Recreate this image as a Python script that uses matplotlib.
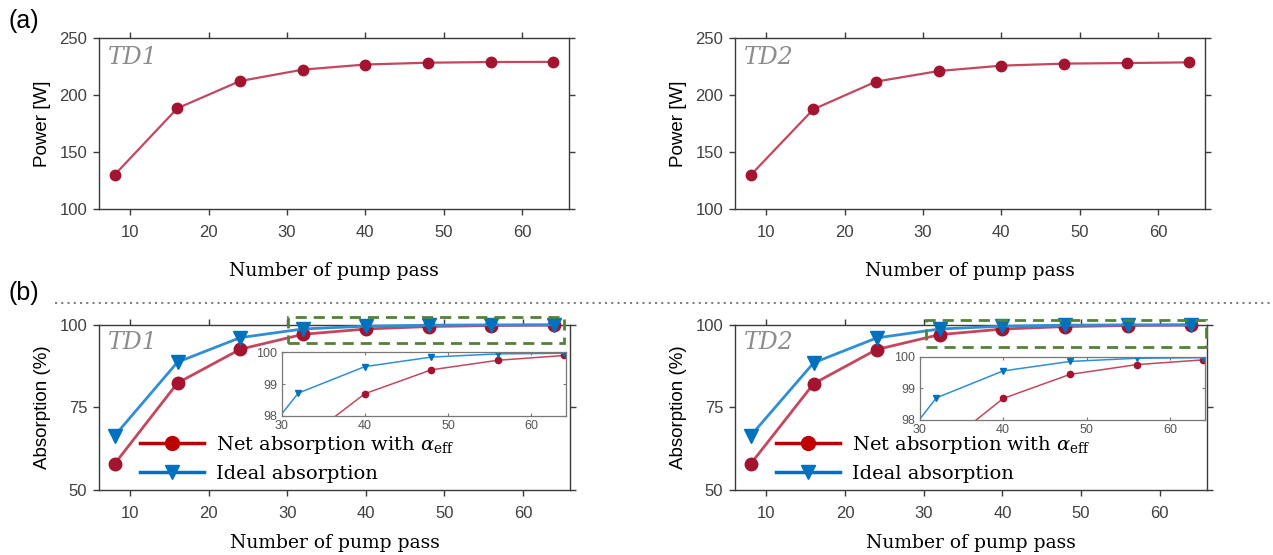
"""
Pump pass study: output power and absorption for TD1 / TD2
"""

import matplotlib
matplotlib.use("Agg")
import matplotlib.pyplot as plt
from matplotlib.lines import Line2D
from matplotlib.patches import Rectangle

# number of pump passes
passes = [8, 16, 24, 32, 40, 48, 56, 64]

# output power [W]
power_td1 = [130.3, 188.6, 212.5, 222.5, 227.0, 228.6, 229.2, 229.3]
power_td2 = [130.0, 187.7, 212.0, 221.3, 226.0, 227.8, 228.3, 228.9]

# absorption [%]
net_td1 = [58.0, 82.4, 92.6, 97.1, 98.7, 99.45, 99.75, 99.9]
ideal_td1 = [66.5, 88.7, 96.1, 98.72, 99.55, 99.85, 99.95, 99.97]
net_td2 = [58.0, 82.2, 92.5, 97.0, 98.68, 99.44, 99.75, 99.9]
ideal_td2 = [66.5, 88.5, 96.0, 98.7, 99.55, 99.85, 99.95, 99.97]

panel_names = ["TD1", "TD2"]

CRIMSON = "#A2142F"
CRIMSON_LINE = "#C4475E"
BLUE = "#0072BD"
BLUE_LINE = "#2E8FD6"
GREEN = "#548235"
TICK_GREY = "#404040"
SPINE = "#3a3a3a"

W, H = 1273, 555
SERIF = ["DejaVu Serif"]
SANS = ["Liberation Sans", "DejaVu Sans"]

plt.rcParams["mathtext.fontset"] = "dejavuserif"


def px_rect(left, top, right, bottom):
    """pixel box -> figure fraction rect"""
    return [left / W, 1 - bottom / H, (right - left) / W, (bottom - top) / H]


def style_axes(ax, size=12, color=TICK_GREY, length=4.5, xpad=7, ypad=4):
    for sp in ax.spines.values():
        sp.set_color(SPINE)
        sp.set_linewidth(1.0)
    ax.tick_params(direction="out", length=length, width=1.0, color=SPINE,
                   labelsize=size, labelcolor=color, top=True, right=True)
    ax.tick_params(axis="x", pad=xpad)
    ax.tick_params(axis="y", pad=ypad)
    for lab in ax.get_xticklabels() + ax.get_yticklabels():
        lab.set_family(SANS)


def tag(ax, name):
    ax.text(0.018, 0.89, name, transform=ax.transAxes, fontsize=17,
            family=SERIF, style="italic", color="#8c8c8c", va="center")


def power_panel(fig, rect, values, name):
    ax = fig.add_axes(rect)
    ax.plot(passes, values, color=CRIMSON_LINE, lw=1.6, marker="o", ms=7.5,
            mfc=CRIMSON, mec=CRIMSON, clip_on=False)
    ax.set_xlim(6, 66)
    ax.set_ylim(100, 250)
    ax.set_xticks([10, 20, 30, 40, 50, 60])
    ax.set_yticks([100, 150, 200, 250])
    ax.set_ylabel("Power [W]", fontsize=13.5, family=SANS, labelpad=6)
    ax.set_xlabel("Number of pump pass", fontsize=13.5, family=SERIF,
                  labelpad=16)
    style_axes(ax)
    tag(ax, name)
    return ax


def absorption_panel(fig, rect, inset_rect, net, ideal, name, box):
    ax = fig.add_axes(rect)
    ax.plot(passes, net, color=CRIMSON_LINE, lw=2.0, marker="o", ms=9,
            mfc=CRIMSON, mec=CRIMSON, clip_on=False, zorder=3)
    ax.plot(passes, ideal, color=BLUE_LINE, lw=2.0, marker="v", ms=10,
            mfc=BLUE, mec=BLUE, clip_on=False, zorder=4)
    ax.set_xlim(6, 66)
    ax.set_ylim(50, 100)
    ax.set_xticks([10, 20, 30, 40, 50, 60])
    ax.set_yticks([50, 75, 100])
    ax.set_ylabel("Absorption (%)", fontsize=13.5, family=SANS, labelpad=6)
    ax.set_xlabel("Number of pump pass", fontsize=13.5, family=SERIF,
                  labelpad=9)
    style_axes(ax)
    tag(ax, name)

    x0, x1, y0, y1 = box
    ax.add_patch(Rectangle((x0, y0), x1 - x0, y1 - y0, fill=False,
                           edgecolor=GREEN, lw=2.0, ls=(0, (4, 2.5)),
                           clip_on=False, zorder=6))

    handles = [
        Line2D([], [], color="#C00000", lw=2.5, marker="o", ms=10),
        Line2D([], [], color="#0070C0", lw=2.5, marker="v", ms=10),
    ]
    ax.legend(handles, [r"Net absorption with $\alpha_{\rm eff}$",
                        "Ideal absorption"],
              loc="lower left", bbox_to_anchor=(0.07, 0.0), frameon=False,
              prop={"family": SERIF, "size": 14}, handlelength=3.3,
              handletextpad=0.6, labelspacing=0.45, borderaxespad=0)

    ins = fig.add_axes(inset_rect)
    ins.plot(passes, net, color=CRIMSON_LINE, lw=1.1, marker="o", ms=4.5,
             mfc=CRIMSON, mec=CRIMSON)
    ins.plot(passes, ideal, color=BLUE_LINE, lw=1.1, marker="v", ms=5,
             mfc=BLUE, mec=BLUE)
    ins.set_xlim(30, 64.2)
    ins.set_ylim(98, 100)
    ins.set_xticks([30, 40, 50, 60])
    ins.set_yticks([98, 99, 100])
    for sp in ins.spines.values():
        sp.set_color("#777777")
        sp.set_linewidth(0.9)
    ins.tick_params(direction="in", length=2.5, width=0.8, color="#777777",
                    labelsize=9, labelcolor="#555555", top=True, right=True,
                    pad=3)
    for lab in ins.get_xticklabels() + ins.get_yticklabels():
        lab.set_family(SANS)
    return ax


def main():
    fig = plt.figure(figsize=(W / 100, H / 100), dpi=100)

    power_panel(fig, px_rect(99, 38.3, 569, 209.3), power_td1, panel_names[0])
    power_panel(fig, px_rect(735, 38.3, 1205, 209.3), power_td2,
                panel_names[1])

    absorption_panel(fig, px_rect(99, 324.7, 570, 490.3),
                     px_rect(281.7, 352.3, 566, 416), net_td1, ideal_td1,
                     panel_names[0], (30.1, 65.2, 94.4, 102.4))
    absorption_panel(fig, px_rect(735, 324.7, 1207, 490.3),
                     px_rect(919.7, 356.7, 1205, 420), net_td2, ideal_td2,
                     panel_names[1], (30.3, 65.9, 93.4, 101.4))

    fig.text(0.007, 0.962, "(a)", fontsize=18, family=SANS, va="center")
    fig.text(0.007, 0.472, "(b)", fontsize=18, family=SANS, va="center")
    fig.add_artist(Line2D([55 / W, 1.0], [1 - 303 / H, 1 - 303 / H],
                          transform=fig.transFigure, color="#808080",
                          lw=1.5, ls=(0, (1, 2))))

    fig.savefig("out.png", dpi=100)


if __name__ == "__main__":
    main()
